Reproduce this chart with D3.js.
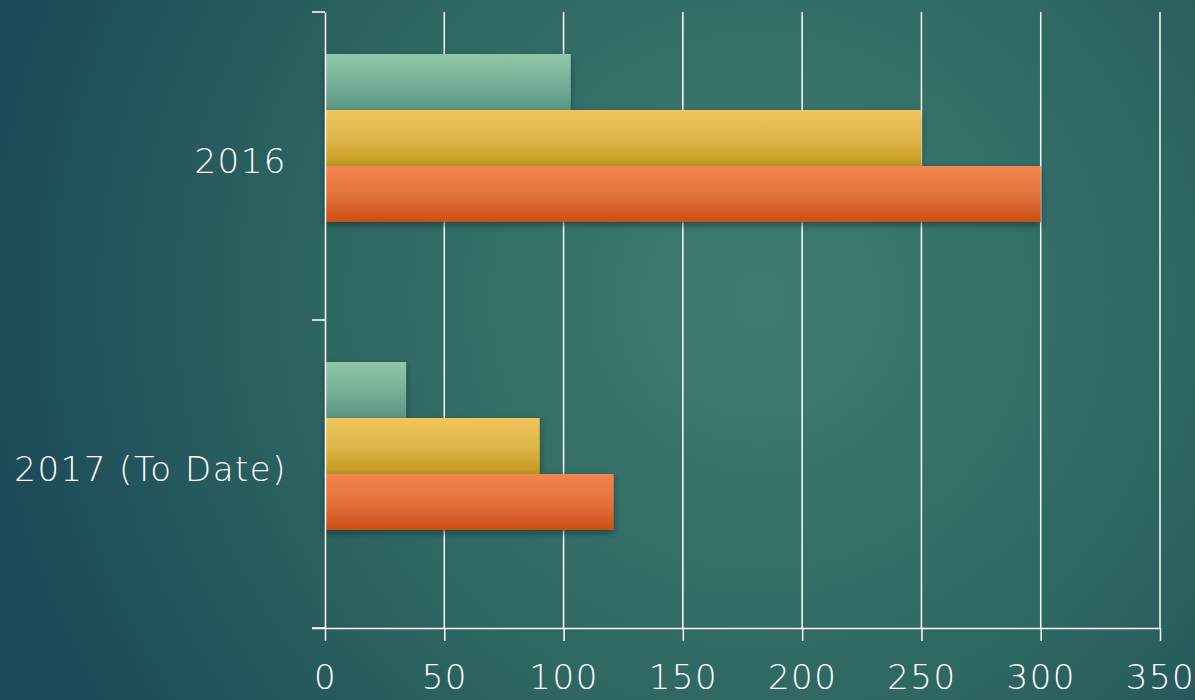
<!DOCTYPE html>
<html>
<head>
<meta charset="utf-8">
<script src="https://cdn.jsdelivr.net/npm/d3@7"></script>
<style>
  html, body { margin: 0; padding: 0; background: #24555c; }
  svg { display: block; }
</style>
</head>
<body>
<div class="chart"></div>
<script>
const width = 1195;
const height = 700;

// data
const categories = ['2016', '2017 (To Date)'];
const seriesNames = ['Series 1', 'Series 2', 'Series 3', 'Series 4'];
const series1 = [103, 34];
const series2 = [250, 90];
const series3 = [300, 121];
const series4 = [null, null]; // empty slot in the chart
const xTicks = [0, 50, 100, 150, 200, 250, 300, 350];

const seriesValues = [series1, series2, series3, series4];
const fills = ['green', 'yellow', 'orange', 'none'];

const margin = {top: 12, right: 35, bottom: 72, left: 325};

var svg = d3.select('.chart').append('svg')
	.attr('width', width)
	.attr('height', height);

var defs = svg.append('defs');

// background
var bg = defs.append('radialGradient')
	.attr('id', 'bg')
	.attr('gradientUnits', 'userSpaceOnUse')
	.attr('cx', 760).attr('cy', 300).attr('r', 800);
bg.append('stop').attr('offset', '0%').attr('stop-color', '#3f7d72');
bg.append('stop').attr('offset', '55%').attr('stop-color', '#2e6662');
bg.append('stop').attr('offset', '100%').attr('stop-color', '#1b4857');

// bar gradients (top light -> bottom dark)
function barGradient(id, c1, c2, c3) {
	let gr = defs.append('linearGradient')
		.attr('id', id)
		.attr('x1', 0).attr('y1', 0).attr('x2', 0).attr('y2', 1);
	gr.append('stop').attr('offset', '0%').attr('stop-color', c1);
	gr.append('stop').attr('offset', '55%').attr('stop-color', c2);
	gr.append('stop').attr('offset', '100%').attr('stop-color', c3);
}
barGradient('green', '#8fc7a8', '#74ae96', '#5a9582');
barGradient('yellow', '#eec65c', '#ddb446', '#bf9820');
barGradient('orange', '#f2854f', '#e2703a', '#c94f14');

var shadow = defs.append('filter')
	.attr('id', 'shadow')
	.attr('x', '-10%').attr('y', '-20%').attr('width', '130%').attr('height', '140%');
shadow.append('feDropShadow')
	.attr('dx', 0).attr('dy', 3)
	.attr('stdDeviation', 3)
	.attr('flood-color', '#0b2a2c')
	.attr('flood-opacity', 0.6);

svg.append('rect')
	.attr('width', width)
	.attr('height', height)
	.attr('fill', 'url(#bg)');

var x = d3.scaleLinear()
	.domain([0, 350])
	.range([margin.left, width - margin.right]);

var y = d3.scaleBand()
	.domain(categories)
	.range([margin.top, height - margin.bottom])
	.paddingInner(0)
	.paddingOuter(0);

// 4 slots of equal height with a gap of 3/4 slot above and below
var inner = d3.scaleBand()
	.domain(seriesNames)
	.range([0, y.bandwidth()])
	.paddingOuter(0.75);

const plotTop = margin.top;
const plotBottom = height - margin.bottom;

// gridlines
svg.append('g')
	.selectAll('line')
	.data(xTicks.slice(1))
	.enter().append('line')
	.attr('x1', d => x(d)).attr('x2', d => x(d))
	.attr('y1', plotTop).attr('y2', plotBottom)
	.attr('stroke', '#ffffff')
	.attr('stroke-width', 1.5);

// bars
var groups = svg.append('g')
	.selectAll('g')
	.data(categories)
	.enter().append('g')
	.attr('transform', d => `translate(0,${y(d)})`);

groups.selectAll('rect')
	.data((c, i) => seriesNames.map((s, j) => ({s: s, v: seriesValues[j][i], fill: fills[j]})))
	.enter()
	.filter(d => d.v != null)
	.append('rect')
	.attr('x', x(0))
	.attr('y', d => inner(d.s))
	.attr('width', d => x(d.v) - x(0))
	.attr('height', inner.bandwidth())
	.attr('fill', d => `url(#${d.fill})`)
	.attr('filter', 'url(#shadow)');

// x axis
var xAxis = svg.append('g')
	.attr('transform', `translate(0,${plotBottom})`)
	.call(d3.axisBottom(x).tickValues(xTicks).tickSize(13).tickPadding(24).tickSizeOuter(0));

// y axis
var yAxis = svg.append('g')
	.attr('transform', `translate(${margin.left},0)`)
	.call(d3.axisLeft(y).tickSize(0).tickPadding(38));

// category boundary ticks on the y axis
svg.append('g')
	.selectAll('line')
	.data(categories.concat(['end']))
	.enter().append('line')
	.attr('x1', margin.left - 13).attr('x2', margin.left)
	.attr('y1', (d, i) => i < categories.length ? y(d) : plotBottom)
	.attr('y2', (d, i) => i < categories.length ? y(d) : plotBottom)
	.attr('stroke', '#ffffff')
	.attr('stroke-width', 1.5);

xAxis.select('.domain')
	.attr('d', `M${margin.left - 13},0.5H${x(350)}`);

[xAxis, yAxis].forEach(a => {
	a.selectAll('.domain').attr('stroke', '#ffffff').attr('stroke-width', 1.5);
	a.selectAll('.tick line').attr('stroke', '#ffffff').attr('stroke-width', 1.5);
	a.selectAll('text')
		.attr('fill', '#ffffff')
		.style('font-family', '"DejaVu Sans", sans-serif')
		.style('font-size', '34px')
		.style('font-weight', 200)
		.style('letter-spacing', '1.5px');
});
yAxis.selectAll('text').attr('dy', '0.2em');
</script>
</body>
</html>
